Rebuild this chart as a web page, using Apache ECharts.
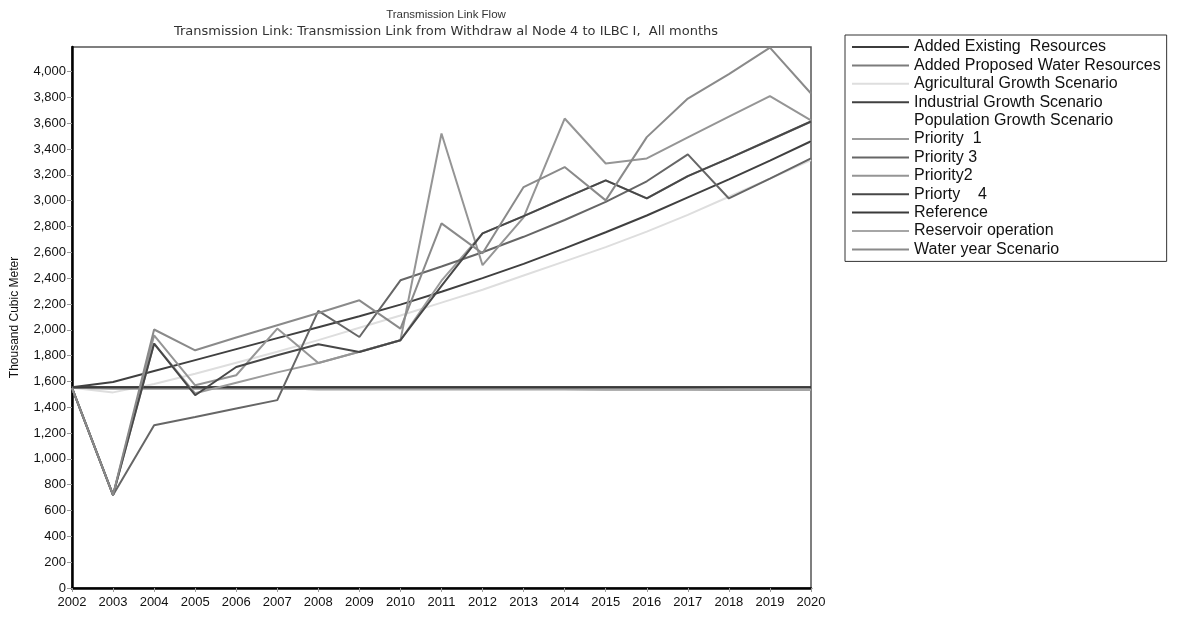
<!DOCTYPE html>
<html>
<head>
<meta charset="utf-8">
<script src="https://cdn.jsdelivr.net/npm/echarts@6/dist/echarts.min.js"></script>
<style>
  html, body { margin: 0; padding: 0; background: #fff; }
  #chart { width: 1178px; height: 617px; }
</style>
</head>
<body>
<div id="chart"></div>
<script>
// years on the x axis
var years = ['2002','2003','2004','2005','2006','2007','2008','2009','2010','2011',
             '2012','2013','2014','2015','2016','2017','2018','2019','2020'];

// series values, thousand cubic meter
var reference      = [1555,1555,1555,1555,1555,1555,1555,1555,1555,1555,1555,1555,1555,1555,1555,1555,1555,1555,1555];
var addedExisting  = [1555,1555,1555,1555,1555,1555,1555,1555,1555,1555,1555,1555,1555,1555,1555,1555,1555,1555,1555];
var addedProposed  = [1550,1545,1545,1545,1545,1545,1540,1540,1540,1540,1540,1540,1540,1538,1538,1538,1536,1536,1535];
var reservoirOp    = [1550,1545,1545,1545,1545,1545,1540,1540,1540,1540,1540,1540,1540,1538,1538,1538,1536,1536,1535];
var agricultural   = [1550,1515,1580,1660,1745,1830,1920,2015,2110,2210,2310,2420,2530,2640,2760,2890,3030,3170,3315];
var industrial     = [1555,1595,1680,1765,1850,1935,2020,2105,2195,2295,2400,2510,2630,2755,2885,3025,3165,3310,3460];
var population     = [1555,1595,1680,1765,1850,1935,2020,2105,2195,2295,2400,2510,2630,2755,2885,3025,3165,3310,3460];
var priority1      = [1550, 720,1893,1508,1590,1670,1743,1830,1919,2380,2747,2880,3020,3157,3017,3190,3327,3470,3613];
var priority3      = [1550, 720,1261,1325,1390,1455,2146,1944,2383,2490,2600,2720,2850,2990,3150,3358,3017,3170,3327];
var priority2      = [1550, 720,1957,1570,1648,2009,1743,1830,1919,3520,2500,2870,3636,3288,3327,3490,3650,3809,3621];
var priority4      = [1550, 720,1893,1493,1712,1803,1888,1828,1919,2340,2747,2880,3020,3157,3017,3190,3327,3470,3613];
var waterYear      = [1550, 720,2002,1841,1940,2035,2130,2228,2009,2824,2592,3105,3260,3002,3492,3791,3980,4185,3830];

var legendNames = ['Added Existing  Resources','Added Proposed Water Resources','Agricultural Growth Scenario',
  'Industrial Growth Scenario','Population Growth Scenario','Priority  1','Priority 3','Priority2',
  'Priorty    4','Reference','Reservoir operation','Water year Scenario'];

var chart = echarts.init(document.getElementById('chart'));

function line(name, data, color) {
  return {
    name: name,
    type: 'line',
    data: data,
    showSymbol: false,
    symbol: 'none',
    color: color,
    lineStyle: { color: color, width: 2 },
    animation: false
  };
}

chart.setOption({
  backgroundColor: '#fff',
  textStyle: { fontFamily: 'Liberation Sans, Arial, sans-serif' },
  title: {
    text: 'Transmission Link Flow',
    subtext: 'Transmission Link: Transmission Link from Withdraw al Node 4 to ILBC I,  All months',
    left: 441,
    textAlign: 'center',
    top: 4,
    itemGap: 4,
    textStyle: { fontSize: 11.5, fontWeight: 'normal', color: '#333' },
    subtextStyle: { fontSize: 13, color: '#333', fontFamily: 'DejaVu Sans' }
  },
  legend: {
    orient: 'vertical',
    left: 845,
    top: 35,
    padding: [4, 6, 4, 7],
    itemWidth: 57,
    itemHeight: 2,
    itemGap: 2.4,
    icon: 'rect',
    borderColor: '#333',
    borderWidth: 1,
    data: legendNames,
    textStyle: { fontSize: 16, color: '#111', lineHeight: 16 }
  },
  grid: {
    left: 72,
    right: 367,
    top: 47,
    bottom: 29,
    show: true,
    borderColor: '#555',
    borderWidth: 1.5
  },
  xAxis: {
    type: 'category',
    data: years,
    boundaryGap: false,
    axisLine: { lineStyle: { color: '#000', width: 2.5 } },
    axisTick: { show: true, length: 4, interval: 0, lineStyle: { color: '#999' } },
    axisLabel: { interval: 0, fontSize: 13, color: '#111', margin: 8 },
    splitLine: { show: false }
  },
  yAxis: {
    type: 'value',
    min: 0,
    max: 4190,
    interval: 200,
    name: 'Thousand Cubic Meter',
    nameLocation: 'middle',
    nameGap: 51,
    nameTextStyle: { fontSize: 12, color: '#111' },
    axisLine: { show: true, lineStyle: { color: '#000', width: 2.5 } },
    axisTick: { show: true, length: 5, lineStyle: { color: '#999' } },
    axisLabel: {
      fontSize: 13, color: '#111', margin: 6, showMaxLabel: false,
      formatter: function (v) { return v > 4000 ? '' : v.toLocaleString('en-US'); }
    },
    splitLine: { show: false }
  },
  series: [
    line('Population Growth Scenario', population, '#ffffff'),
    line('Agricultural Growth Scenario', agricultural, '#dedede'),
    line('Added Proposed Water Resources', addedProposed, '#7c7c7c'),
    line('Reservoir operation', reservoirOp, '#a6a6a6'),
    line('Added Existing  Resources', addedExisting, '#3c3c3c'),
    line('Reference', reference, '#3a3a3a'),
    line('Industrial Growth Scenario', industrial, '#404040'),
    line('Priority  1', priority1, '#9c9c9c'),
    line('Priority 3', priority3, '#666666'),
    line('Priority2', priority2, '#959595'),
    line('Priorty    4', priority4, '#474747'),
    line('Water year Scenario', waterYear, '#8a8a8a')
  ]
});
</script>
</body>
</html>
